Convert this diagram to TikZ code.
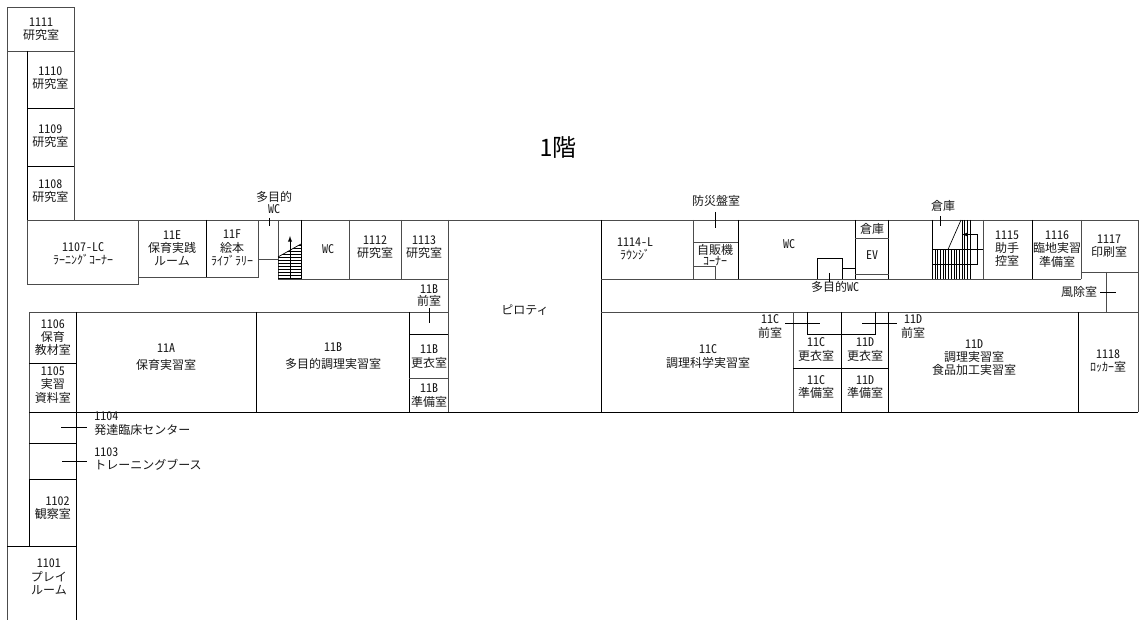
\documentclass[tikz,border=0pt]{standalone}
\usepackage{fontspec}
\setmainfont[RawFeature=+hwid]{Noto Sans CJK JP}
\newfontfamily\fullw{Noto Sans CJK JP}
\usetikzlibrary{arrows}
\newcommand{\roomfont}{\fontsize{9}{9.9}\selectfont}
\tikzset{
    wall/.style = {line width=0.7pt, draw=black!70},
    thin wall/.style = {line width=0.5pt, draw=black},
    room/.style = {font=\roomfont, align=center, inner sep=0pt, text=black!90},
    leader/.style = {line width=0.5pt, draw=black}
}

\begin{document}
\begin{tikzpicture}[x=0.75pt,y=-0.75pt]
    \useasboundingbox (0,0) rectangle (1143,620);
    %\draw[help lines,step=100] (0,0) grid (1143,620);

    % west wing
    \draw[wall] (7,620) -- (7,7) -- (74,7) -- (74,220);
    \draw[wall] (7,51) -- (74,51);
    \draw[thin wall] (27.5,51) -- (27.5,220);
    \draw[wall] (27.5,220) -- (27.5,284) -- (138,284) -- (138,220);
    \draw[thin wall] (27.5,108) -- (74,108);
    \draw[thin wall] (27.5,166) -- (74,166);
    \draw[wall] (29,479) -- (29,312);
    \draw[wall] (29,312) -- (448,312);
    \draw[thin wall] (29,363) -- (76,363);
    \draw[thin wall] (29,443) -- (76,443);
    \draw[thin wall] (29,479) -- (76,479);
    \draw[thin wall] (29,479) -- (29,546);
    \draw[thin wall] (7,546) -- (76,546);
    \draw[thin wall] (76,312) -- (76,620);

    % main corridor
    \draw[wall] (27.5,220) -- (1138,220) -- (1138,412);
    \draw[thin wall] (1138,412) -- (29,412);
    \draw[wall] (448,220) -- (448,412);
    \draw[thin wall] (601,220) -- (601,412);
    \draw[wall] (138,277) -- (258,277) -- (258,220);
    \draw[thin wall] (206,220) -- (206,277);
    \draw[wall] (258,259) -- (278,259);
    \draw[wall] (278,279) -- (448,279);
    \draw[wall] (278,220) -- (278,279);
    \draw[thin wall] (301,220) -- (301,279);
    \draw[wall] (349,220) -- (349,279);
    \draw[wall] (401,220) -- (401,279);
    \draw[wall] (601,279) -- (1081,279);
    \draw[wall] (601,312) -- (1138,312);

    % south rooms
    \draw[thin wall] (256,312) -- (256,412);
    \draw[thin wall] (409,312) -- (409,412);
    \draw[thin wall] (409,334) -- (448,334);
    \draw[wall] (409,378) -- (448,378);
    \draw[wall] (793,312) -- (793,412);
    \draw[thin wall] (841,312) -- (841,412);
    \draw[thin wall] (888.5,312) -- (888.5,412);
    \draw[thin wall] (1078,312) -- (1078,412);
    \draw[thin wall] (793,368) -- (888.5,368);
    \draw[thin wall] (807,312) -- (807,334) -- (875,334) -- (875,312);

    % north east rooms
    \draw[wall] (693,220) -- (693,279);
    \draw[thin wall] (738,220) -- (738,279);
    \draw[wall] (693,242) -- (738,242);
    \draw[wall] (693,266) -- (715,266) -- (715,279);
    \draw[thin wall] (817,279) -- (817,258) -- (842,258) -- (842,279);
    \draw[thin wall] (842,268) -- (855,268);
    \draw[thin wall] (855,220) -- (855,279);
    \draw[thin wall] (888.5,220) -- (888.5,279);
    \draw[wall] (855,238) -- (888.5,238);
    \draw[wall] (855,274) -- (888.5,274);
    \draw[wall] (983,220) -- (983,279);
    \draw[thin wall] (1032,220) -- (1032,279);
    \draw[wall] (1081,220) -- (1081,279);
    \draw[wall] (1081,272) -- (1138,272);
    \draw[wall] (1106,272) -- (1106,312);

    % stairs
    \draw[thin wall] (278,257) -- (301,244);
    \begin{scope}
        \clip (278,257) -- (301,244) -- (301,279) -- (278,279) -- cycle;
        \foreach \y in {245,248,...,278}
            \draw[thin wall] (278,\y) -- (301,\y);
    \end{scope}
    \draw[thin wall,-latex] (290,279) -- (290,236);

    \draw[thin wall] (932.5,220) -- (932.5,279);
    \draw[thin wall] (932.5,249.5) -- (983,249.5);
    \draw[thin wall] (961,220) -- (948,249.5);
    \draw[thin wall] (932.5,264) -- (977,264) -- (977,234.5);
    \foreach \x in {935,937.7,...,960}
        \draw[thin wall] (\x,249.5) -- (\x,279);
    \foreach \x in {962,964.7,967.4,970.1}
        \draw[thin wall] (\x,220) -- (\x,279);
    \draw[thin wall,-latex] (977,234.5) -- (962,234.5);

    % leaders
    \draw[leader] (269,218) -- (269,226);
    \draw[leader] (61,427) -- (87,427);
    \draw[leader] (62,461) -- (87,461);
    \draw[leader] (429,308) -- (429,323);
    \draw[leader] (715.5,212) -- (715.5,228);
    \draw[leader] (829,273) -- (829,282);
    \draw[leader] (940,216) -- (940,226);
    \draw[leader] (1100,292) -- (1116,292);
    \draw[leader] (785,323) -- (820,323);
    \draw[leader] (862,323) -- (897,323);

    % labels
    \node[room] (r1111) at (41,29) {1111\\研究室};
    \node[room] (r1110) at (50.5,78.5) {1110\\研究室};
    \node[room] (r1109) at (50.5,136.5) {1109\\研究室};
    \node[room] (r1108) at (50.5,191.5) {1108\\研究室};
    \node[room] (r1107) at (83,254) {1107-LC\\ﾗｰﾆﾝｸﾞｺｰﾅｰ};
    \node[room] (r11E) at (172,248) {11E\\保育実践\\{\fullw ルーム}};
    \node[room] (r11F) at (232,248) {11F\\絵本\\ﾗｲﾌﾞﾗﾘｰ};
    \node[room] (mwcA) at (274,202.5) {多目的\\[-1.5pt]WC};
    \node[room] (wcA) at (328,249) {WC};
    \node[room] (r1112) at (375,247) {1112\\研究室};
    \node[room] (r1113) at (424,247) {1113\\研究室};
    \node[room] (r11Bf) at (429,295.5) {11B\\[-1.5pt]前室};
    \node[room] (pilotis) at (525,310) {\fullw ピロティ};
    \node[room] (r1114) at (635,249) {1114-L\\ﾗｳﾝｼﾞ};
    \node[room] (bosai) at (716,201) {防災盤室};
    \node[room] (jihan) at (715,255) {自販機\\[-2pt]ｺｰﾅｰ};
    \node[room] (wcB) at (789,244) {WC};
    \node[room] (mwcB) at (835,287) {多目的WC};
    \node[room] (soko1) at (872,229) {倉庫};
    \node[room] (ev) at (872,255) {EV};
    \node[room] (soko2) at (943,206) {倉庫};
    \node[room] (r1115) at (1007,249) {1115\\助手\\控室};
    \node[room] (r1116) at (1057,249) {1116\\臨地実習\\準備室};
    \node[room] (r1117) at (1109,246.5) {1117\\印刷室};
    \node[room] (fujo) at (1079,292) {風除室};
    \node[room] (r1106) at (53,337.5) {1106\\保育\\教材室};
    \node[room] (r1105) at (53,385) {1105\\実習\\資料室};
    \node[room] (r11A) at (166,357) {11A\\[3pt]保育実習室};
    \node[room] (r11B) at (333,356) {11B\\[3pt]多目的調理実習室};
    \node[room] (r11Bk) at (429,356.5) {11B\\更衣室};
    \node[room] (r11Bj) at (429,395.5) {11B\\準備室};
    \node[room] (r11C) at (708,356.5) {11C\\調理科学実習室};
    \node[room] (r11Cf) at (770,326.5) {11C\\前室};
    \node[room] (r11Ck) at (816,349.5) {11C\\更衣室};
    \node[room] (r11Cj) at (816,387) {11C\\準備室};
    \node[room] (r11Dk) at (865,349.5) {11D\\更衣室};
    \node[room] (r11Dj) at (865,387) {11D\\準備室};
    \node[room] (r11Df) at (913,326.5) {11D\\前室};
    \node[room] (r11D) at (974,357.5) {11D\\調理実習室\\食品加工実習室};
    \node[room] (r1118) at (1108,361) {1118\\ﾛｯｶｰ室};
    \node[room,align=left,anchor=north west] (r1104) at (94,412) {1104\\{\fullw 発達臨床センター}};
    \node[room,align=left,anchor=north west] (r1103) at (94,447.5) {1103\\{\fullw トレーニングブース}};
    \node[room] (r1102) at (53,508.5) {\hspace{7pt}1102\\観察室};
    \node[room] (r1101) at (49,577) {1101\\{\fullw プレイ}\\{\fullw ルーム}};

    \node[font=\fontsize{18}{20}\selectfont] (title) at (558,148) {1階};
\end{tikzpicture}
\end{document}
